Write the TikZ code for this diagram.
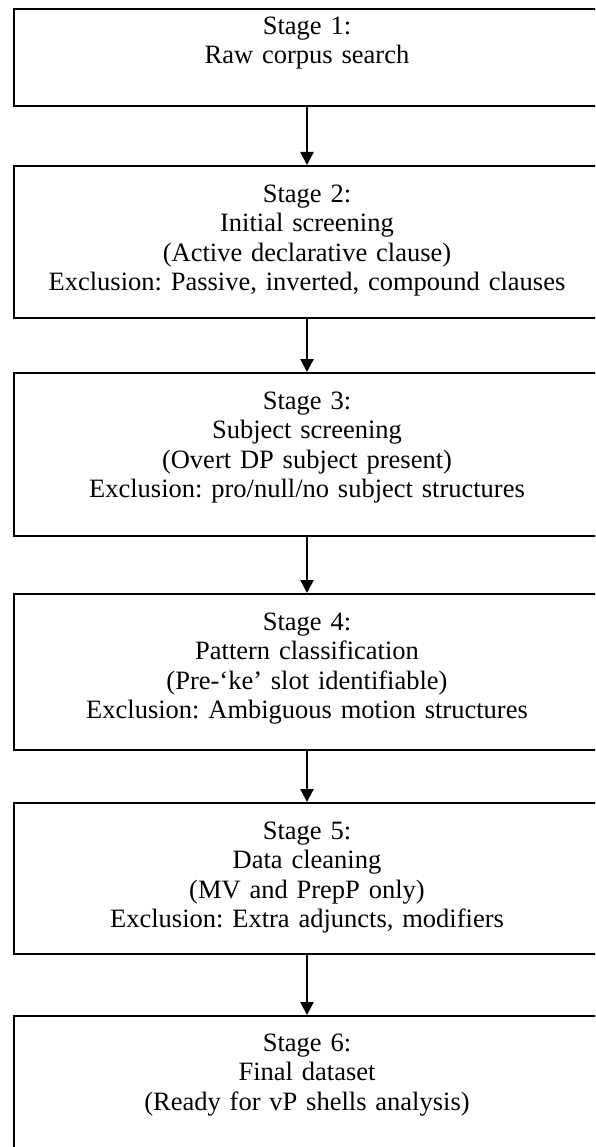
\documentclass[tikz,border=0pt]{standalone}
\usepackage{fontspec}
\setmainfont{Liberation Serif}
\frenchspacing
\usetikzlibrary{arrows.meta}
\tikzset{
    stagebox/.style={draw, line width=2.2pt, text width=586pt, align=center,
        anchor=north, inner xsep=0pt, inner ysep=0pt, text height=36pt,
        font=\fontsize{26.5}{29.5}\selectfont},
    flow/.style={-{Triangle[length=13pt, width=13pt]}, line width=2.4pt},
}
\begin{document}
\begin{tikzpicture}[x=1pt, y=-1pt]
        \useasboundingbox (0,0) rectangle (595,1147);
        \clip (0,0) rectangle (595,1147);

        % Stages
        \node[stagebox, text height=25pt, text depth=72pt] (s1) at (307,8)
            {Stage 1:\\Raw corpus search};

        \node[stagebox, text depth=116pt] (s2) at (307,165)
            {Stage 2:\\Initial screening\\(Active declarative clause)\\
            Exclusion: Passive, inverted, compound clauses};

        \node[stagebox, text depth=127pt] (s3) at (307,372)
            {Stage 3:\\Subject screening\\(Overt DP subject present)\\
            Exclusion: pro/null/no subject structures};

        \node[stagebox, text depth=120pt] (s4) at (307,593)
            {Stage 4:\\Pattern classification\\(Pre-‘ke’ slot identifiable)\\
            Exclusion: Ambiguous motion structures};

        \node[stagebox, text depth=115pt] (s5) at (307,802)
            {Stage 5:\\Data cleaning\\(MV and PrepP only)\\
            Exclusion: Extra adjuncts, modifiers};

        \node[stagebox, text height=35pt, text depth=117pt] (s6) at (307,1015)
            {Stage 6:\\Final dataset\\(Ready for vP shells analysis)};

        % Arrows
        \draw[flow] (s1.south) -- (s2.north);
        \draw[flow] (s2.south) -- (s3.north);
        \draw[flow] (s3.south) -- (s4.north);
        \draw[flow] (s4.south) -- (s5.north);
        \draw[flow] (s5.south) -- (s6.north);
\end{tikzpicture}
\end{document}
